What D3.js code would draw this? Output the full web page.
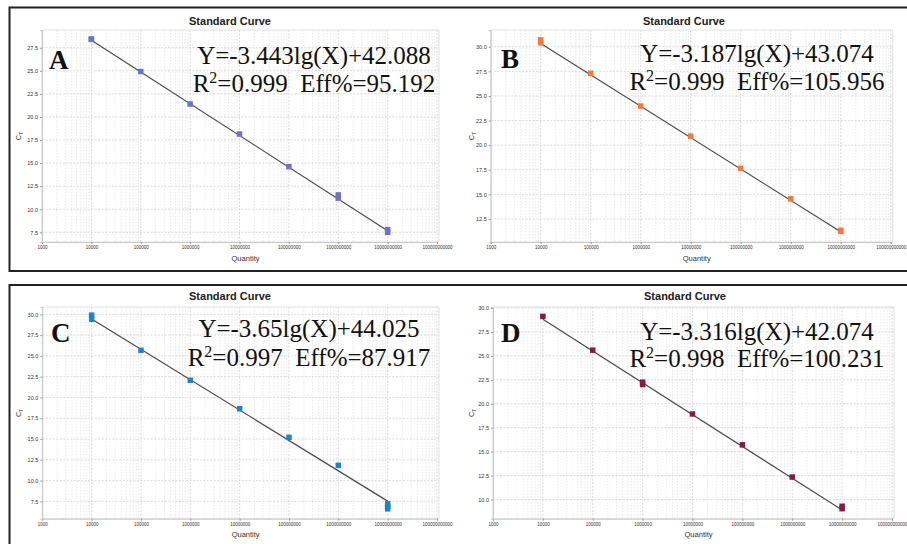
<!DOCTYPE html>
<html>
<head>
<meta charset="utf-8">
<script src="https://cdn.jsdelivr.net/npm/d3@7"></script>
<style>
  body { margin: 0; background: #fff; }
  svg { display: block; }
</style>
</head>
<body>
<svg id="chart" width="907" height="544"></svg>
<script>
(function standard_curves() {

  // ---- data ----
  const panelLetters = ["A", "B", "C", "D"];
  const quantities = [1e4, 1e5, 1e6, 1e7, 1e8, 1e9, 1e10];
  const xTicks = [1e3, 1e4, 1e5, 1e6, 1e7, 1e8, 1e9, 1e10, 1e11];

  // Ct replicates per dilution
  const ctA = [[28.45, 28.4], [24.92], [21.4], [18.15], [14.61], [11.55, 11.2], [7.8, 7.5]];
  const ctB = [[30.7, 30.4], [27.3], [23.97], [20.92], [17.64], [14.55], [11.35, 11.25]];
  const ctC = [[29.9, 29.4], [25.67], [22.06], [18.64], [15.2], [11.83], [7.2, 6.9, 6.6]];
  const ctD = [[29.12], [25.59], [22.25, 22.0], [18.93], [15.71], [12.35], [9.3, 9.05]];

  const slopes = [-3.443, -3.187, -3.65, -3.316];
  const intercepts = [42.088, 43.074, 44.025, 42.074];
  const slopeLabels = ["-3.443", "-3.187", "-3.65", "-3.316"];
  const interceptLabels = ["42.088", "43.074", "44.025", "42.074"];
  const r2Labels = ["0.999", "0.999", "0.997", "0.998"];
  const effLabels = ["95.192", "105.956", "87.917", "100.231"];

  const yTicksA = [7.5, 10, 12.5, 15, 17.5, 20, 22.5, 25, 27.5];
  const yTicksB = [12.5, 15, 17.5, 20, 22.5, 25, 27.5, 30];
  const yTicksC = [7.5, 10, 12.5, 15, 17.5, 20, 22.5, 25, 27.5, 30];
  const yTicksD = [10, 12.5, 15, 17.5, 20, 22.5, 25, 27.5, 30];

  const colors = ["#6f72cc", "#f47a3c", "#1a84cc", "#8a1a44"];

  // ---- layout ----
  const panels = [
    { ct: ctA, yTicks: yTicksA, yDomain: [6.45, 29.42], xr: [42, 437], yr: [242, 30], titleX: 230, titleY: 24.5, ox: 0, oy: 0,
      eqX: 314, eqY: [64, 92], letterX: 49, letterY: 69 },
    { ct: ctB, yTicks: yTicksB, yDomain: [10.16, 31.7], xr: [490.7, 890.7], yr: [242, 30], titleX: 684, titleY: 24.5, ox: 453, oy: 0,
      eqX: 757, eqY: [62, 90], letterX: 501, letterY: 68 },
    { ct: ctC, yTicks: yTicksC, yDomain: [5.41, 30.88], xr: [42.3, 437], yr: [518.7, 307], titleX: 230, titleY: 300, ox: 0, oy: 272,
      eqX: 309, eqY: [337, 366], letterX: 51, letterY: 342 },
    { ct: ctD, yTicks: yTicksD, yDomain: [8.0, 30.1], xr: [493, 892], yr: [518.7, 307], titleX: 685, titleY: 300, ox: 453, oy: 272,
      eqX: 757, eqY: [340, 367], letterX: 501, letterY: 342 }
  ];

  const svg = d3.select("#chart");

  // outer frames
  svg.append("rect")
    .attr("x", 9.5).attr("y", 7.5).attr("width", 910).attr("height", 263.5)
    .attr("fill", "none").attr("stroke", "#222").attr("stroke-width", 2);
  svg.append("rect")
    .attr("x", 9.5).attr("y", 285).attr("width", 910).attr("height", 280)
    .attr("fill", "none").attr("stroke", "#222").attr("stroke-width", 2);

  panels.forEach((p, i) => {
    const x = d3.scaleLog().domain([1e3, 1e11]).range(p.xr);
    const y = d3.scaleLinear().domain(p.yDomain).range(p.yr);
    const g = svg.append("g");

    const left = p.xr[0], right = p.xr[1] + 2, top = p.yr[1], bottom = p.yr[0];

    // minor vertical grid
    const minor = [];
    for (let e = 3; e < 11; e++) for (let k = 2; k <= 9; k++) minor.push(k * Math.pow(10, e));
    g.append("g").selectAll("line")
      .data(minor)
      .join("line")
      .attr("x1", d => x(d)).attr("x2", d => x(d))
      .attr("y1", top).attr("y2", bottom)
      .attr("stroke", "#e4e4e4").attr("stroke-width", 0.8)
      .attr("stroke-dasharray", "1.5,1.5");

    // major grid
    g.append("g").selectAll("line")
      .data(xTicks)
      .join("line")
      .attr("x1", d => x(d)).attr("x2", d => x(d))
      .attr("y1", top).attr("y2", bottom)
      .attr("stroke", "#d2d2d2").attr("stroke-width", 0.8)
      .attr("stroke-dasharray", "2,1.5");
    g.append("g").selectAll("line")
      .data(p.yTicks)
      .join("line")
      .attr("x1", left).attr("x2", right)
      .attr("y1", d => y(d)).attr("y2", d => y(d))
      .attr("stroke", "#d2d2d2").attr("stroke-width", 0.8)
      .attr("stroke-dasharray", "2,1.5");

    // plot border
    g.append("rect")
      .attr("x", left).attr("y", top)
      .attr("width", right - left).attr("height", bottom - top)
      .attr("fill", "none").attr("stroke", "#e2e2e2").attr("stroke-width", 1);

    // axes
    const xAxis = g.append("g")
      .attr("transform", `translate(0,${bottom})`)
      .call(d3.axisBottom(x).tickValues(xTicks).tickFormat(d3.format("d")).tickSize(2).tickPadding(2));
    const yAxis = g.append("g")
      .attr("transform", `translate(${left},0)`)
      .call(d3.axisLeft(y).tickValues(p.yTicks).tickFormat(d3.format(".1f")).tickSize(2).tickPadding(2));
    [xAxis, yAxis].forEach(a => {
      a.select(".domain").attr("stroke", "#c8c8c8");
      a.selectAll(".tick line").attr("stroke", "#999");
      a.selectAll("text").attr("fill", "#333").attr("font-family", "Liberation Sans, Arial, sans-serif");
    });
    xAxis.selectAll("text").attr("font-size", 4.5);
    yAxis.selectAll("text").attr("font-size", 5.5);

    // titles
    g.append("text")
      .attr("x", p.titleX).attr("y", p.titleY)
      .attr("text-anchor", "middle")
      .attr("font-family", "Liberation Sans, Arial, sans-serif")
      .attr("font-weight", "bold").attr("font-size", 11).attr("fill", "#222")
      .text("Standard Curve");

    g.append("text")
      .attr("x", (left + right) / 2 + 5).attr("y", bottom + 18.5)
      .attr("text-anchor", "middle")
      .attr("font-family", "Liberation Sans, Arial, sans-serif")
      .attr("font-size", 7.5).attr("fill", "#333")
      .text("Quantity");

    const yl = g.append("text")
      .attr("transform", `translate(${p.ox + 21},${(top + bottom) / 2}) rotate(-90)`)
      .attr("text-anchor", "middle")
      .attr("font-family", "Liberation Sans, Arial, sans-serif")
      .attr("font-size", 7.5).attr("fill", "#333");
    yl.append("tspan").text("C");
    yl.append("tspan").attr("font-size", 5).attr("dy", 1.5).text("T");

    // regression line
    const lineX = [quantities[0], quantities[quantities.length - 1]];
    g.append("path")
      .datum(lineX)
      .attr("d", d3.line().x(d => x(d)).y(d => y(slopes[i] * Math.log10(d) + intercepts[i])))
      .attr("stroke", "#4a4a4a").attr("stroke-width", 1.2).attr("fill", "none");

    // replicate markers
    const pts = [];
    p.ct.forEach((reps, j) => reps.forEach(v => pts.push({ q: quantities[j], v })));
    const s = 5.5;
    g.append("g").selectAll("rect")
      .data(pts)
      .join("rect")
      .attr("x", d => x(d.q) - s / 2).attr("y", d => y(d.v) - s / 2)
      .attr("width", s).attr("height", s)
      .attr("fill", colors[i]);

    // panel letter
    g.append("text")
      .attr("x", p.letterX).attr("y", p.letterY)
      .attr("font-family", "Liberation Serif, Times New Roman, serif")
      .attr("font-weight", "bold").attr("font-size", 27).attr("fill", "#111")
      .text(panelLetters[i]);

    // equation
    g.append("text")
      .attr("x", p.eqX).attr("y", p.eqY[0])
      .attr("text-anchor", "middle")
      .attr("font-family", "Liberation Serif, Times New Roman, serif")
      .attr("font-size", 25).attr("fill", "#111")
      .text(`Y=${slopeLabels[i]}lg(X)+${interceptLabels[i]}`);

    const eq2 = g.append("text")
      .attr("x", p.eqX).attr("y", p.eqY[1])
      .attr("text-anchor", "middle")
      .attr("font-family", "Liberation Serif, Times New Roman, serif")
      .attr("font-size", 25).attr("fill", "#111")
      .attr("xml:space", "preserve");
    eq2.append("tspan").text("R");
    eq2.append("tspan").attr("font-size", 16).attr("dy", -9).text("2");
    eq2.append("tspan").attr("dy", 9).text(`=${r2Labels[i]}  Eff%=${effLabels[i]}`);
  });

})();
</script>
</body>
</html>
